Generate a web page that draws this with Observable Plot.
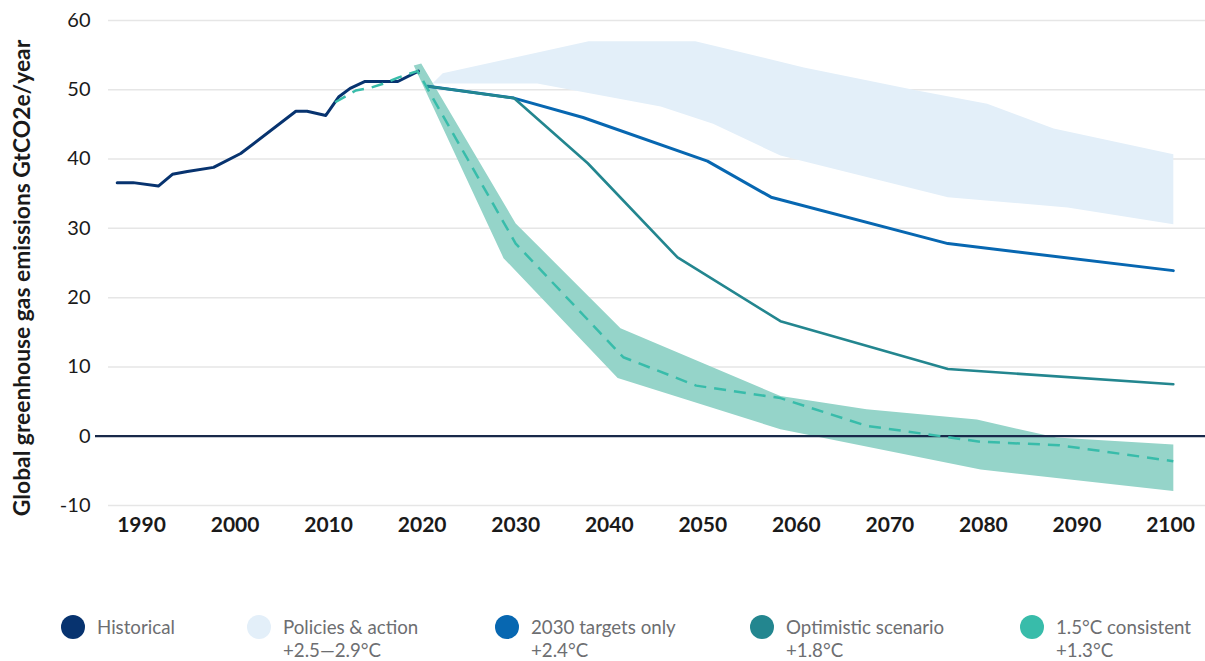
<!DOCTYPE html>
<html><head><meta charset="utf-8">
<script src="https://cdn.jsdelivr.net/npm/d3@7"></script>
<script src="https://cdn.jsdelivr.net/npm/@observablehq/plot@0.6"></script>
<style>
body{margin:0;background:#fff;font-family:Lato, sans-serif;}
#chart{position:relative;width:1205px;height:661px;overflow:hidden;}
#chart svg{display:block;}
.legend{position:absolute;top:615px;left:0;width:1205px;height:46px;}
.item{position:absolute;top:0;display:flex;align-items:flex-start;}
.dot{width:24px;height:24px;border-radius:50%;margin-right:12px;flex:none;}
.lab{font-size:18.7px;line-height:23px;color:#6d6e71;white-space:nowrap;margin-top:0.5px;}
</style></head><body><div id="chart"></div>
<script>
// ---- data ----
const xTicks = [1990, 2000, 2010, 2020, 2030, 2040, 2050, 2060, 2070, 2080, 2090, 2100];
const yTicks = [-10, 0, 10, 20, 30, 40, 50, 60];
const yLabel = "Global greenhouse gas emissions GtCO2e/year";

const historical = [
  [1987.4, 36.6], [1989.1, 36.6], [1991.8, 36.1], [1993.3, 37.8], [1994.9, 38.2],
  [1997.7, 38.8], [2000.6, 40.8], [2006.5, 46.9], [2007.7, 46.9], [2009.7, 46.3],
  [2011.1, 49.0], [2012.3, 50.2], [2013.9, 51.2], [2017.4, 51.2], [2019.6, 52.7]
];
const policiesUpper = [
  [2021.1, 50.9], [2022.2, 52.4], [2037.8, 57.0], [2049.2, 57.0], [2055.1, 55.1],
  [2060.8, 53.2], [2072.9, 49.9], [2080.4, 48.0], [2087.5, 44.4], [2100.3, 40.7]
];
const policiesLower = [
  [2021.1, 50.9], [2032.3, 50.9], [2045.5, 47.6], [2051.1, 45.1], [2058.3, 40.5],
  [2076.2, 34.5], [2089.0, 33.0], [2100.3, 30.6]
];
const targets2030 = [
  [2020.6, 50.5], [2029.8, 48.8], [2037.2, 46.0], [2050.5, 39.7], [2057.3, 34.5],
  [2076.2, 27.8], [2100.3, 23.9]
];
const optimistic = [
  [2020.6, 50.5], [2029.8, 48.8], [2037.7, 39.4], [2047.3, 25.8], [2058.3, 16.6],
  [2076.2, 9.7], [2100.3, 7.5]
];
const c15Upper = [
  [2019.9, 53.8], [2030.0, 30.7], [2041.2, 15.6], [2058.3, 5.8], [2067.5, 3.9],
  [2079.3, 2.4], [2087.8, -0.2], [2100.3, -1.2]
];
const c15Lower = [
  [2019.1, 53.5], [2028.7, 25.7], [2040.9, 8.4], [2058.3, 1.0], [2079.7, -4.8],
  [2100.3, -7.9]
];
const c15Mid = [
  [2010.7, 48.2], [2012.9, 49.9], [2014.5, 50.3], [2015.9, 50.9], [2017.5, 51.8],
  [2019.5, 52.7], [2030.0, 27.8], [2041.5, 11.4], [2049.3, 7.3], [2058.3, 5.5],
  [2067.5, 1.5], [2079.7, -0.8], [2088.1, -1.3], [2100.3, -3.6]
];

const legendLabels = [
  ["Historical", ""],
  ["Policies & action", "+2.5\u20142.9\u00b0C"],
  ["2030 targets only", "+2.4\u00b0C"],
  ["Optimistic scenario", "+1.8\u00b0C"],
  ["1.5\u00b0C consistent", "+1.3\u00b0C"]
];
const colors = ["#07336f", "#e3eff9", "#0767b1", "#23868f", "#38bcaa"];
const legendLeft = [61, 247, 495, 750, 1020];

// ---- helpers ----
const pts = (arr) => arr.map(([year, value]) => ({year, value}));
const poly = (up, lo) => pts(up.concat(lo.slice().reverse()));

const plot = Plot.plot({
  width: 1205, height: 560,
  marginLeft: 108, marginRight: 0, marginTop: 20, marginBottom: 55,
  x: {domain: [1986.47, 2103.74]},
  y: {domain: [-10, 60]},
  style: {fontFamily: "Lato, sans-serif", background: "white", color: "#1a1a1a", overflow: "visible"},
  marks: [
    Plot.gridY(yTicks.filter(d => d !== 0), {stroke: "#e6e6e6", strokeOpacity: 1, strokeWidth: 1.5}),
    Plot.line(poly(policiesUpper, policiesLower), {x: "year", y: "value", fill: colors[1], stroke: "none"}),
    Plot.line(poly(c15Upper, c15Lower), {x: "year", y: "value", fill: "#95d4c9", stroke: "none"}),
    Plot.ruleY([0], {stroke: "#18294a", strokeWidth: 2.2, insetLeft: -13}),
    Plot.line(pts(targets2030), {x: "year", y: "value", stroke: colors[2], strokeWidth: 3}),
    Plot.line(pts(optimistic), {x: "year", y: "value", stroke: colors[3], strokeWidth: 2.6}),
    Plot.line(pts(historical), {x: "year", y: "value", stroke: colors[0], strokeWidth: 3}),
    Plot.line(pts(c15Mid), {x: "year", y: "value", stroke: colors[4], strokeWidth: 2.5, strokeDasharray: "12,8", strokeLinecap: "butt"}),
    Plot.axisX({ticks: xTicks, tickSize: 0, tickPadding: 12, tickFormat: d => String(d), fontSize: 21, fontWeight: "bold", label: null}),
    Plot.axisY({ticks: yTicks, tickSize: 0, tickPadding: 18, fontSize: 20, tickFormat: d => String(d), label: null}),
    Plot.text([yLabel], {frameAnchor: "left", textAnchor: "middle", rotate: -90, dx: -86, dy: 15, fontSize: 22.8, fontWeight: "bold", fill: "#1a1a1a"})
  ]
});

const chart = document.getElementById("chart");
chart.appendChild(plot);

const legend = document.createElement("div");
legend.className = "legend";
legendLabels.forEach(([l1, l2], i) => {
  const item = document.createElement("div");
  item.className = "item";
  item.style.left = legendLeft[i] + "px";
  const dot = document.createElement("div");
  dot.className = "dot";
  dot.style.background = colors[i];
  const lab = document.createElement("div");
  lab.className = "lab";
  lab.innerHTML = l1 + (l2 ? "<br>" + l2 : "");
  item.appendChild(dot);
  item.appendChild(lab);
  legend.appendChild(item);
});
chart.appendChild(legend);
</script>
</body></html>
